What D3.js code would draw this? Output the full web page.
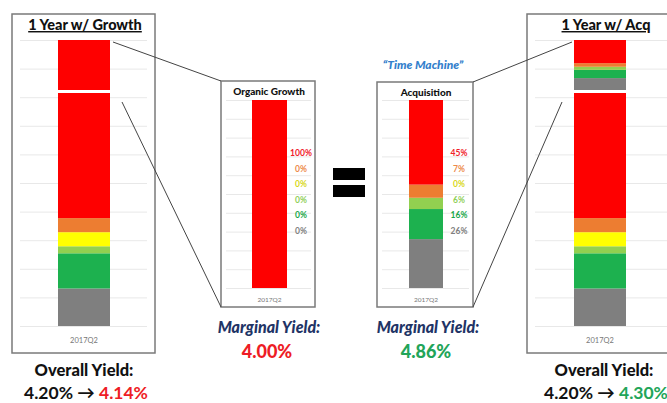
<!DOCTYPE html>
<html>
<head>
<meta charset="utf-8">
<script src="https://cdn.jsdelivr.net/npm/d3@7"></script>
<style>
  html, body { margin: 0; padding: 0; background: #fff; }
  svg { display: block; font-family: Lato, "Open Sans", sans-serif; }
</style>
</head>
<body>
<svg id="chart" width="667" height="403"></svg>
<script>
// Quarter shown on each panel
const categories = ["2017Q2"];
// Risk buckets, top of the stack first
const buckets = ["Red", "Orange", "Yellow", "Light Green", "Green", "Gray"];
const bucketColors = ["#fe0000", "#ed7d31", "#ffff00", "#92d050", "#1db14f", "#7f7f7f"];
const labelColors = ["#f0202a", "#ed8a4a", "#d8d820", "#8fcf5a", "#18a84a", "#808080"];
// Mix (%) of the existing book, the organic quarter and the acquired quarter
const existingMix = [54, 6, 6, 3, 15, 16];
const organicMix = [100, 0, 0, 0, 0, 0];
const acquisitionMix = [45, 7, 0, 6, 16, 26];
// Share (%) of the one-year book that the new quarter represents
const newQuarterShare = 18;
// Yields (%)
const marginalYields = [4.00, 4.86];
const overallBefore = 4.20;
const overallAfter = [4.14, 4.30];

const svg = d3.select("#chart");
const RED = "#ee1c25", GREEN = "#22a559";

function panel(cfg) {
  const g = svg.append("g");
  g.append("rect")
    .attr("x", cfg.box[0]).attr("y", cfg.box[1])
    .attr("width", cfg.box[2]).attr("height", cfg.box[3])
    .attr("fill", "#fff").attr("stroke", "#7a7a7a").attr("stroke-width", 1.5);

  const y = d3.scaleLinear().domain([0, 100]).range(cfg.yRange);
  const x = d3.scaleBand().domain(categories).range(cfg.barX).padding(0);

  // gridlines
  const axis = d3.axisLeft(y).tickValues(d3.range(0, 101, 10))
    .tickSize(-(cfg.grid[1] - cfg.grid[0])).tickFormat("");
  const ga = g.append("g").attr("transform", `translate(${cfg.grid[1]},0)`).call(axis);
  ga.select(".domain").remove();
  ga.selectAll(".tick line").attr("stroke", "#e2e2e2").attr("stroke-width", 0.8)
    .attr("transform", "scale(-1,1)").attr("x2", cfg.grid[1] - cfg.grid[0]);

  // stacked segments (bottom of stack = last bucket)
  cfg.layers.forEach(layer => {
    let acc = layer.from;
    for (let i = buckets.length - 1; i >= 0; i--) {
      const v = layer.mix[i] * layer.weight / 100;
      if (v > 0) {
        g.append("rect")
          .attr("x", x(categories[0])).attr("width", x.bandwidth())
          .attr("y", y(acc + v)).attr("height", y(acc) - y(acc + v))
          .attr("fill", bucketColors[i]);
      }
      acc += v;
    }
  });
  if (cfg.split) {
    g.append("line")
      .attr("x1", x(categories[0])).attr("x2", x(categories[0]) + x.bandwidth())
      .attr("y1", y(cfg.split)).attr("y2", y(cfg.split))
      .attr("stroke", "#fff").attr("stroke-width", 3);
  }

  // x category label
  g.append("text").attr("x", x(categories[0]) + x.bandwidth() / 2).attr("y", cfg.catY)
    .attr("text-anchor", "middle").attr("font-size", cfg.catSize).attr("fill", "#777")
    .text(categories[0]);

  // title
  const t = g.append("text").attr("x", cfg.titleX).attr("y", cfg.titleY)
    .attr("text-anchor", "middle").attr("font-weight", 900)
    .attr("font-size", cfg.titleSize).attr("fill", "#111").text(cfg.title);
  if (cfg.underline) t.attr("text-decoration", "underline");

  // percentage labels
  if (cfg.labels) {
    cfg.labels.forEach((v, i) => {
      g.append("text").attr("x", cfg.labelX).attr("y", 156 + i * 15.6)
        .attr("text-anchor", "middle").attr("font-size", 8.5).attr("font-weight", 700)
        .attr("fill", labelColors[i]).text(v + "%");
    });
  }
  return { y, x };
}

const baseShare = 100 - newQuarterShare;

panel({
  box: [12, 14, 143, 339], yRange: [326, 40], barX: [58, 110], grid: [20, 147],
  layers: [{ mix: existingMix, weight: baseShare, from: 0 }, { mix: organicMix, weight: newQuarterShare, from: baseShare }],
  split: baseShare, catY: 343, catSize: 7.5,
  title: "1 Year w/ Growth", titleX: 85, titleY: 30, titleSize: 14.5, underline: true
});
panel({
  box: [221, 81, 94, 226], yRange: [288, 100], barX: [252, 287], grid: [226, 311],
  layers: [{ mix: organicMix, weight: 100, from: 0 }],
  catY: 302, catSize: 6.5, labels: organicMix, labelX: 301,
  title: "Organic Growth", titleX: 269, titleY: 95, titleSize: 10
});
panel({
  box: [377, 82, 96, 225], yRange: [288, 100], barX: [409, 443], grid: [382, 469],
  layers: [{ mix: acquisitionMix, weight: 100, from: 0 }],
  catY: 302, catSize: 6.5, labels: acquisitionMix, labelX: 459,
  title: "Acquisition", titleX: 426, titleY: 96, titleSize: 10
});
panel({
  box: [527, 14, 145, 339], yRange: [326, 40], barX: [574, 626], grid: [535, 667],
  layers: [{ mix: existingMix, weight: baseShare, from: 0 }, { mix: acquisitionMix, weight: newQuarterShare, from: baseShare }],
  split: baseShare, catY: 343, catSize: 7.5,
  title: "1 Year w/ Acq", titleX: 606, titleY: 30, titleSize: 14.5, underline: true
});

// connector lines
const conn = [
  [113, 42, 221, 81], [122, 102, 221, 307],
  [473, 82, 572, 42], [473, 307, 562, 102]
];
svg.selectAll("line.conn").data(conn).join("line").attr("class", "conn")
  .attr("x1", d => d[0]).attr("y1", d => d[1]).attr("x2", d => d[2]).attr("y2", d => d[3])
  .attr("stroke", "#444").attr("stroke-width", 1);

// equals sign
svg.append("rect").attr("x", 333).attr("y", 168).attr("width", 32).attr("height", 12).attr("fill", "#000");
svg.append("rect").attr("x", 333).attr("y", 185).attr("width", 32).attr("height", 12).attr("fill", "#000");

// "Time Machine" caption
svg.append("text").attr("x", 423).attr("y", 69).attr("text-anchor", "middle")
  .attr("font-size", 12).attr("font-weight", 900).attr("font-style", "italic")
  .attr("fill", "#3380cc").text("\u201CTime Machine\u201D");

// marginal yields
const fmt = d3.format(".2f");
[[269, marginalYields[0], RED], [428, marginalYields[1], GREEN]].forEach(([cx, v, c]) => {
  svg.append("text").attr("x", cx).attr("y", 333).attr("text-anchor", "middle")
    .attr("font-size", 16).attr("font-weight", 900).attr("font-style", "italic")
    .attr("fill", "#1f3466").text("Marginal Yield:");
  svg.append("text").attr("x", cx - 2).attr("y", 358).attr("text-anchor", "middle")
    .attr("font-size", 18).attr("font-weight", 900).attr("fill", c).text(fmt(v) + "%");
});

// overall yields
[[84, overallAfter[0], RED], [604, overallAfter[1], GREEN]].forEach(([cx, v, c]) => {
  svg.append("text").attr("x", cx).attr("y", 376).attr("text-anchor", "middle")
    .attr("font-size", 16.5).attr("font-weight", 900).attr("fill", "#111").text("Overall Yield:");
  const t = svg.append("text").attr("x", cx + 2).attr("y", 399).attr("text-anchor", "middle")
    .attr("font-size", 17.5).attr("font-weight", 700).attr("fill", "#111");
  t.append("tspan").text(fmt(overallBefore) + "% \u2192 ");
  t.append("tspan").attr("fill", c).text(fmt(v) + "%");
});
</script>
</body>
</html>
